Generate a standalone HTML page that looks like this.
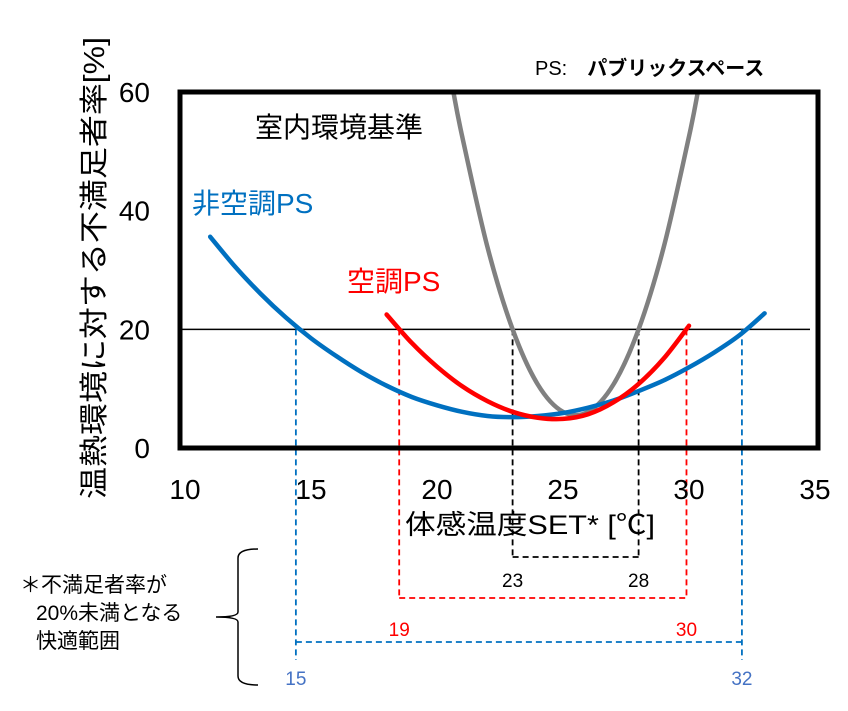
<!DOCTYPE html>
<html><head><meta charset="utf-8"><style>
body{margin:0;background:#fff;}
svg text{font-family:"Liberation Sans","Noto Sans CJK JP",sans-serif;}
</style></head><body>
<svg width="848" height="706" viewBox="0 0 848 706">
<g id="plot"></g>
<text x="535" y="75" font-size="20">PS:　<tspan font-weight="bold">パブリックスペース</tspan></text>
<text x="255" y="137" font-size="28" fill="#000">室内環境基準</text>
<text x="192" y="213" font-size="28" fill="#0070c0">非空調PS</text>
<text x="347" y="291" font-size="28" fill="#ff0000">空調PS</text>
<text transform="translate(104,268) rotate(-90)" text-anchor="middle" font-size="29" textLength="462" lengthAdjust="spacingAndGlyphs">温熱環境に対する不満足者率[%]</text>
<text x="530" y="534" text-anchor="middle" font-size="27" textLength="250" lengthAdjust="spacingAndGlyphs">体感温度SET* [℃]</text>
<text x="20" y="592" font-size="21">＊不満足者率が</text>
<text x="36" y="620" font-size="21">20%未満となる</text>
<text x="36" y="648" font-size="21">快適範囲</text>
<path d="M258,549 Q238,549 238,558 L238,612 Q238,617 216,617 Q238,617 238,622 L238,676 Q238,685 258,685" fill="none" stroke="#000" stroke-width="1.5"/>
</svg>
<script>
const xTicks=[10,15,20,25,30,35];
const yTicks=[0,20,40,60];
const grayX=[20.65,21,22,23,24,25,26,27,28,29,30,30.35];
const grayY=[60,52.5,33.9,20,10.7,6.1,6.1,10.7,20,33.9,52.5,60];
const blueX=[11,12,13,14,15,16,17,18,19,20,21,22,23,24,25,26,27,28,29,30,31,32,33];
const blueY=[35.6,30.5,26,22,18.5,15.5,12.8,10.5,8.6,7.2,6.1,5.4,5.2,5.4,5.9,6.8,8,9.6,11.4,13.6,16.1,19,22.7];
const redX=[18,19,20,21,22,23,24,25,26,27,28,29,30];
const redY=[22.5,17.7,13.7,10.4,7.9,6.1,5.1,4.9,5.7,7.7,10.8,15.1,20.6];
const rangeLo=[23,18.5,14.4];
const rangeHi=[28,29.9,32.1];
const rangeLabLo=["23","19","15"];
const rangeLabHi=["28","30","32"];
const threshold=20;
const NS="http://www.w3.org/2000/svg";
const X=v=>185+(v-10)*25.2, Y=v=>448-v*(356/60);
const g=document.getElementById('plot');
function el(t,a){const e=document.createElementNS(NS,t);for(const k in a)e.setAttribute(k,a[k]);g.appendChild(e);return e;}
let e=el('line',{x1:180,x2:810,y1:Y(threshold),y2:Y(threshold),stroke:'#000','stroke-width':1.5});


const rc=['#000','#ff0000','#0070c0'],lc=['#000','#ff0000','#4472c4'],hy=[557,598,642],ly=[587,636,685],by=[557,598,660];
for(let i=0;i<3;i++){
 const a=X(rangeLo[i]),b=X(rangeHi[i]);
 const p=el('path',{d:`M${a},${Y(threshold)}L${a},${by[i]}M${b},${Y(threshold)}L${b},${by[i]}M${a},${hy[i]}L${b},${hy[i]}`,fill:'none',stroke:rc[i],'stroke-width':1.8,'stroke-dasharray':'6,4'});
 
 
 const t1=el('text',{x:a,y:ly[i],'text-anchor':'middle','font-size':19,fill:lc[i]});t1.textContent=rangeLabLo[i];
 
 
 const t2=el('text',{x:b,y:ly[i],'text-anchor':'middle','font-size':19,fill:lc[i]});t2.textContent=rangeLabHi[i];
 
 
}
function curve(xs,ys,c,name){
 const P=xs.map((x,i)=>[X(x),Y(ys[i])]);
 let d=`M${P[0][0]},${P[0][1]}`;
 for(let i=0;i<P.length-1;i++){
  const p0=P[Math.max(0,i-1)],p1=P[i],p2=P[i+1],p3=P[Math.min(P.length-1,i+2)];
  d+=`C${p1[0]+(p2[0]-p0[0])/6},${p1[1]+(p2[1]-p0[1])/6} ${p2[0]-(p3[0]-p1[0])/6},${p2[1]-(p3[1]-p1[1])/6} ${p2[0]},${p2[1]}`;
 }
 const p=el('path',{d,fill:'none',stroke:c,'stroke-width':4.5,'stroke-linecap':'round'});
 
 
}
curve(grayX,grayY,'#808080','standard-curve');
curve(blueX,blueY,'#0070c0','nonac-ps-curve');
curve(redX,redY,'#ff0000','ac-ps-curve');
e=el('rect',{x:180,y:92,width:638,height:356,fill:'none',stroke:'#000','stroke-width':5});


xTicks.forEach(v=>{const t=el('text',{x:X(v),y:499,'text-anchor':'middle','font-size':28});t.textContent=v;
 
 });
yTicks.forEach(v=>{const t=el('text',{x:150,y:Y(v)+10,'text-anchor':'end','font-size':28});t.textContent=v;
 
 });
</script>
</body></html>
